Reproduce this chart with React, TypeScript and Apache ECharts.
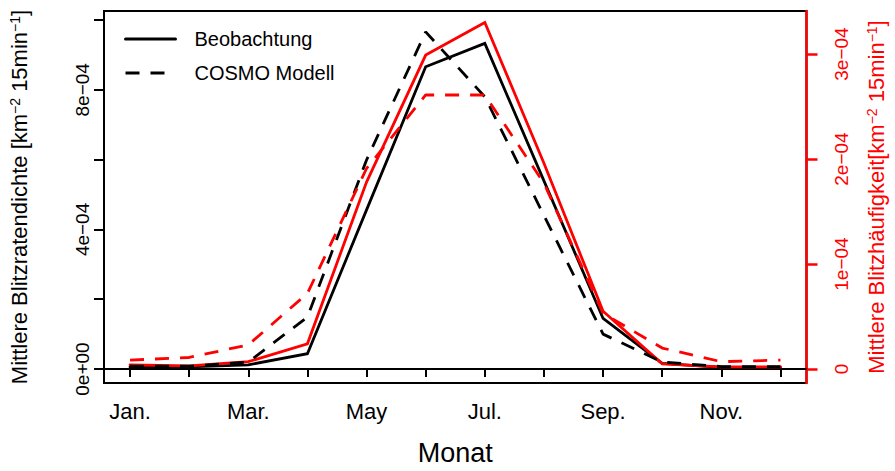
import React, { useEffect, useRef } from "react";
import * as echarts from "echarts";

// Month index (1 = Jan. ... 12 = Dec.)
const months = [1, 2, 3, 4, 5, 6, 7, 8, 9, 10, 11, 12];
const monthTickLabels: Record<number, string> = { 1: "Jan.", 3: "Mar.", 5: "May", 7: "Jul.", 9: "Sep.", 11: "Nov." };

// Left axis: mean flash rate density [km^-2 15min^-1]
const obsDensity = [6e-6, 6e-6, 1.2e-5, 4.4e-5, 4.56e-4, 8.66e-4, 9.33e-4, 5.39e-4, 1.45e-4, 1.6e-5, 5e-6, 5e-6];
const cosmoDensity = [8e-6, 8e-6, 2e-5, 1.49e-4, 5.99e-4, 9.66e-4, 7.8e-4, 4.4e-4, 1.0e-4, 2.0e-5, 7e-6, 7e-6];

// Right axis: mean flash frequency [km^-2 15min^-1]
const obsFrequency = [4e-6, 3e-6, 7e-6, 2.4e-5, 1.78e-4, 2.99e-4, 3.3e-4, 1.96e-4, 5.5e-5, 5e-6, 2e-6, 2e-6];
const cosmoFrequency = [8.5e-6, 1.1e-5, 2.3e-5, 7.2e-5, 1.91e-4, 2.61e-4, 2.61e-4, 1.77e-4, 5.3e-5, 2.0e-5, 7e-6, 8.5e-6];

const leftTicks = [0, 2e-4, 4e-4, 6e-4, 8e-4, 1e-3];
const leftLabelTicks = [0, 4e-4, 8e-4];
const leftLabelText: Record<number, string> = { 0: "0e+00", 4: "4e\u221204", 8: "8e\u221204" };
const rightTicks = [0, 1e-4, 2e-4, 3e-4];
const rightLabelText: Record<number, string> = { 0: "0", 1: "1e\u221204", 2: "2e\u221204", 3: "3e\u221204" };

const FONT = "Liberation Sans, Arial, Helvetica, sans-serif";
const RED = "#ff0000";
const DASH = [14, 11];

const pairs = (vals: number[]) => months.map((m, i) => [m, vals[i]]);

export default function App() {
  const ref = useRef<HTMLDivElement>(null);

  useEffect(() => {
    if (!ref.current) return;
    const chart = echarts.init(ref.current, null, { renderer: "svg" });
    const supRich = {
      sup: { fontSize: 14, verticalAlign: "top", fontFamily: FONT, lineHeight: 23 },
    };
    chart.setOption({
      animation: false,
      backgroundColor: "#ffffff",
      textStyle: { fontFamily: FONT },
      grid: {
        left: 102,
        right: 84,
        top: 11,
        bottom: 88,
        show: true,
        borderColor: "#000",
        borderWidth: 2,
        backgroundColor: "transparent",
      },
      legend: {
        data: ["Beobachtung", "COSMO Modell"],
        orient: "vertical",
        left: 119,
        top: 24,
        itemWidth: 50,
        itemHeight: 14,
        itemGap: 14,
        itemStyle: { color: "transparent", borderWidth: 0, opacity: 0 },
        lineStyle: { width: 3 },
        textStyle: { fontSize: 20, color: "#000", fontFamily: FONT, padding: [0, 0, 0, 14] },
      },
      xAxis: {
        type: "value",
        min: 0.56,
        max: 12.44,
        name: "Monat",
        nameLocation: "middle",
        nameGap: 56,
        nameTextStyle: { fontSize: 27, color: "#000", fontFamily: FONT },
        axisLine: { show: true, lineStyle: { color: "#000", width: 2 } },
        axisTick: {
          show: true,
          customValues: months,
          length: 8,
          lineStyle: { color: "#000", width: 2 },
        },
        axisLabel: {
          customValues: [1, 3, 5, 7, 9, 11],
          formatter: (v: number) => monthTickLabels[Math.round(v)] ?? "",
          fontSize: 22,
          color: "#000",
          margin: 17,
          fontFamily: FONT,
        },
        splitLine: { show: false },
      },
      yAxis: [
        {
          type: "value",
          position: "left",
          min: -4.0e-5,
          max: 1.0258e-3,
          name: "Mittlere Blitzratendichte [km{sup|\u22122} 15min{sup|\u22121}]",
          nameLocation: "middle",
          nameRotate: 90,
          nameGap: 73,
          nameTextStyle: { fontSize: 22, color: "#000", fontFamily: FONT, rich: supRich },
          axisLine: { show: true, lineStyle: { color: "#000", width: 2 } },
          axisTick: { show: true, customValues: leftTicks, length: 10, lineStyle: { color: "#000", width: 2 } },
          axisLabel: {
            customValues: leftLabelTicks,
            formatter: (v: number) => leftLabelText[Math.round(v * 1e4)] ?? "",
            rotate: 90,
            fontSize: 19,
            color: "#000",
            margin: 12,
            fontFamily: FONT,
          },
          splitLine: { show: false },
        },
        {
          type: "value",
          position: "right",
          min: -1.33e-5,
          max: 3.41e-4,
          name: "Mittlere Blitzh\u00e4ufigkeit[km{sup|\u22122} 15min{sup|\u22121}]",
          nameLocation: "middle",
          nameRotate: 90,
          nameGap: 58,
          nameTextStyle: {
            fontSize: 22,
            color: RED,
            fontFamily: FONT,
            rich: { sup: { ...supRich.sup, color: RED } },
          },
          axisLine: { show: true, lineStyle: { color: RED, width: 2.5 } },
          axisTick: { show: true, customValues: rightTicks, length: 11, lineStyle: { color: RED, width: 2.5 } },
          axisLabel: {
            customValues: rightTicks,
            formatter: (v: number) => rightLabelText[Math.round(v * 1e4)] ?? "",
            rotate: 90,
            fontSize: 19,
            color: RED,
            margin: 25,
            fontFamily: FONT,
          },
          splitLine: { show: false },
        },
      ],
      series: [
        {
          name: "Beobachtung",
          type: "line",
          yAxisIndex: 0,
          data: pairs(obsDensity),
          symbol: "none",
          itemStyle: { color: "#000" },
          lineStyle: { color: "#000", width: 2.8, cap: "round", join: "miter" },
          z: 2,
        },
        {
          name: "Beobachtung (rechte Achse)",
          type: "line",
          yAxisIndex: 1,
          data: pairs(obsFrequency),
          symbol: "none",
          itemStyle: { color: RED },
          lineStyle: { color: RED, width: 2.8, cap: "round", join: "miter" },
          z: 3,
        },
        {
          name: "COSMO Modell",
          type: "line",
          yAxisIndex: 0,
          data: pairs(cosmoDensity),
          symbol: "none",
          itemStyle: { color: "#000" },
          lineStyle: { color: "#000", width: 2.8, type: DASH, cap: "butt" },
          z: 4,
        },
        {
          name: "COSMO Modell (rechte Achse)",
          type: "line",
          yAxisIndex: 1,
          data: pairs(cosmoFrequency),
          symbol: "none",
          itemStyle: { color: RED },
          lineStyle: { color: RED, width: 2.8, type: DASH, cap: "butt" },
          z: 5,
        },
      ],
    });
    return () => chart.dispose();
  }, []);

  return (
    <div
      ref={ref}
      style={{ position: "fixed", left: 0, top: 0, width: 895, height: 471, background: "#fff" }}
    />
  );
}
